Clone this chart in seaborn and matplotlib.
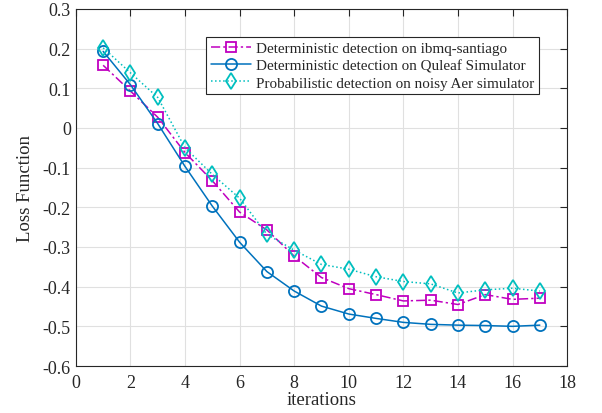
import numpy as np
import pandas as pd
import matplotlib
matplotlib.use("Agg")
import matplotlib.pyplot as plt
import seaborn as sns

iteraciones = list(range(1, 18))
santiago = [0.158, 0.093, 0.027, -0.062, -0.133, -0.212, -0.257, -0.323, -0.377,
            -0.405, -0.420, -0.436, -0.434, -0.445, -0.420, -0.432, -0.429]
quleaf = [0.193, 0.109, 0.011, -0.097, -0.197, -0.288, -0.362, -0.411, -0.449,
          -0.469, -0.480, -0.490, -0.495, -0.497, -0.498, -0.500, -0.497]
aer = [0.202, 0.139, 0.077, -0.050, -0.117, -0.177, -0.268, -0.308, -0.344,
       -0.356, -0.375, -0.387, -0.393, -0.416, -0.408, -0.404, -0.411]
etiquetas = ["Deterministic detection on ibmq-santiago",
             "Deterministic detection on Quleaf Simulator",
             "Probabilistic detection on noisy Aer simulator"]

sns.set_style("white")
plt.rcParams['font.family'] = ['Liberation Serif', 'DejaVu Serif']

fig = plt.figure(figsize=(6.02, 4.14), dpi=100)
ax = fig.add_axes([0.126, 0.1135, 0.816, 0.8625])

# color, estilo de linea, marcador, tamaño
estilos = [
    ('#c000c0', (0, (6, 2, 1.5, 2)), 's', 6.5),
    ('#0072bd', '-', 'o', 8),
    ('#00bfbf', ':', 'd', 8.5),
]
for valores, (color, ls, mk, ms), etiqueta in zip([santiago, quleaf, aer], estilos, etiquetas):
    df = pd.DataFrame({'x': iteraciones, 'y': valores})
    sns.lineplot(data=df, x='x', y='y', ax=ax, color=color, linestyle=ls,
                 marker=mk, markersize=ms, markerfacecolor='none',
                 markeredgecolor=color, markeredgewidth=1.3, linewidth=1.1,
                 label=etiqueta)

ax.set_xlim(0, 18)
ax.set_ylim(-0.6, 0.3)
ax.set_xticks(np.arange(0, 19, 2))
ax.set_yticks(np.round(np.arange(-0.6, 0.31, 0.1), 1))
ax.set_yticklabels(['-0.6', '-0.5', '-0.4', '-0.3', '-0.2', '-0.1', '0', '0.1', '0.2', '0.3'])
ax.grid(True, color='#e0e0e0', linewidth=0.8)
ax.tick_params(direction='in', top=True, right=True, labelsize=13, length=5,
               color='#262626', labelcolor='#262626')
ax.tick_params(axis='x', pad=6)
ax.tick_params(axis='y', pad=3.5)
for s in ax.spines.values():
    s.set_color('#262626')
    s.set_linewidth(0.8)
ax.set_xlabel('iterations', fontsize=13.5, color='#262626', labelpad=0)
ax.set_ylabel('Loss Function', fontsize=13.5, color='#262626', labelpad=6)

leg = ax.legend(loc='upper left', bbox_to_anchor=(0.265, 0.922), fontsize=10.9,
                frameon=True, fancybox=False, edgecolor='#262626', framealpha=1,
                borderpad=0.3, labelspacing=0.25, handlelength=2.7,
                handletextpad=0.3, borderaxespad=0)
leg.get_frame().set_linewidth(0.8)

fig.savefig('out.png', dpi=100)
